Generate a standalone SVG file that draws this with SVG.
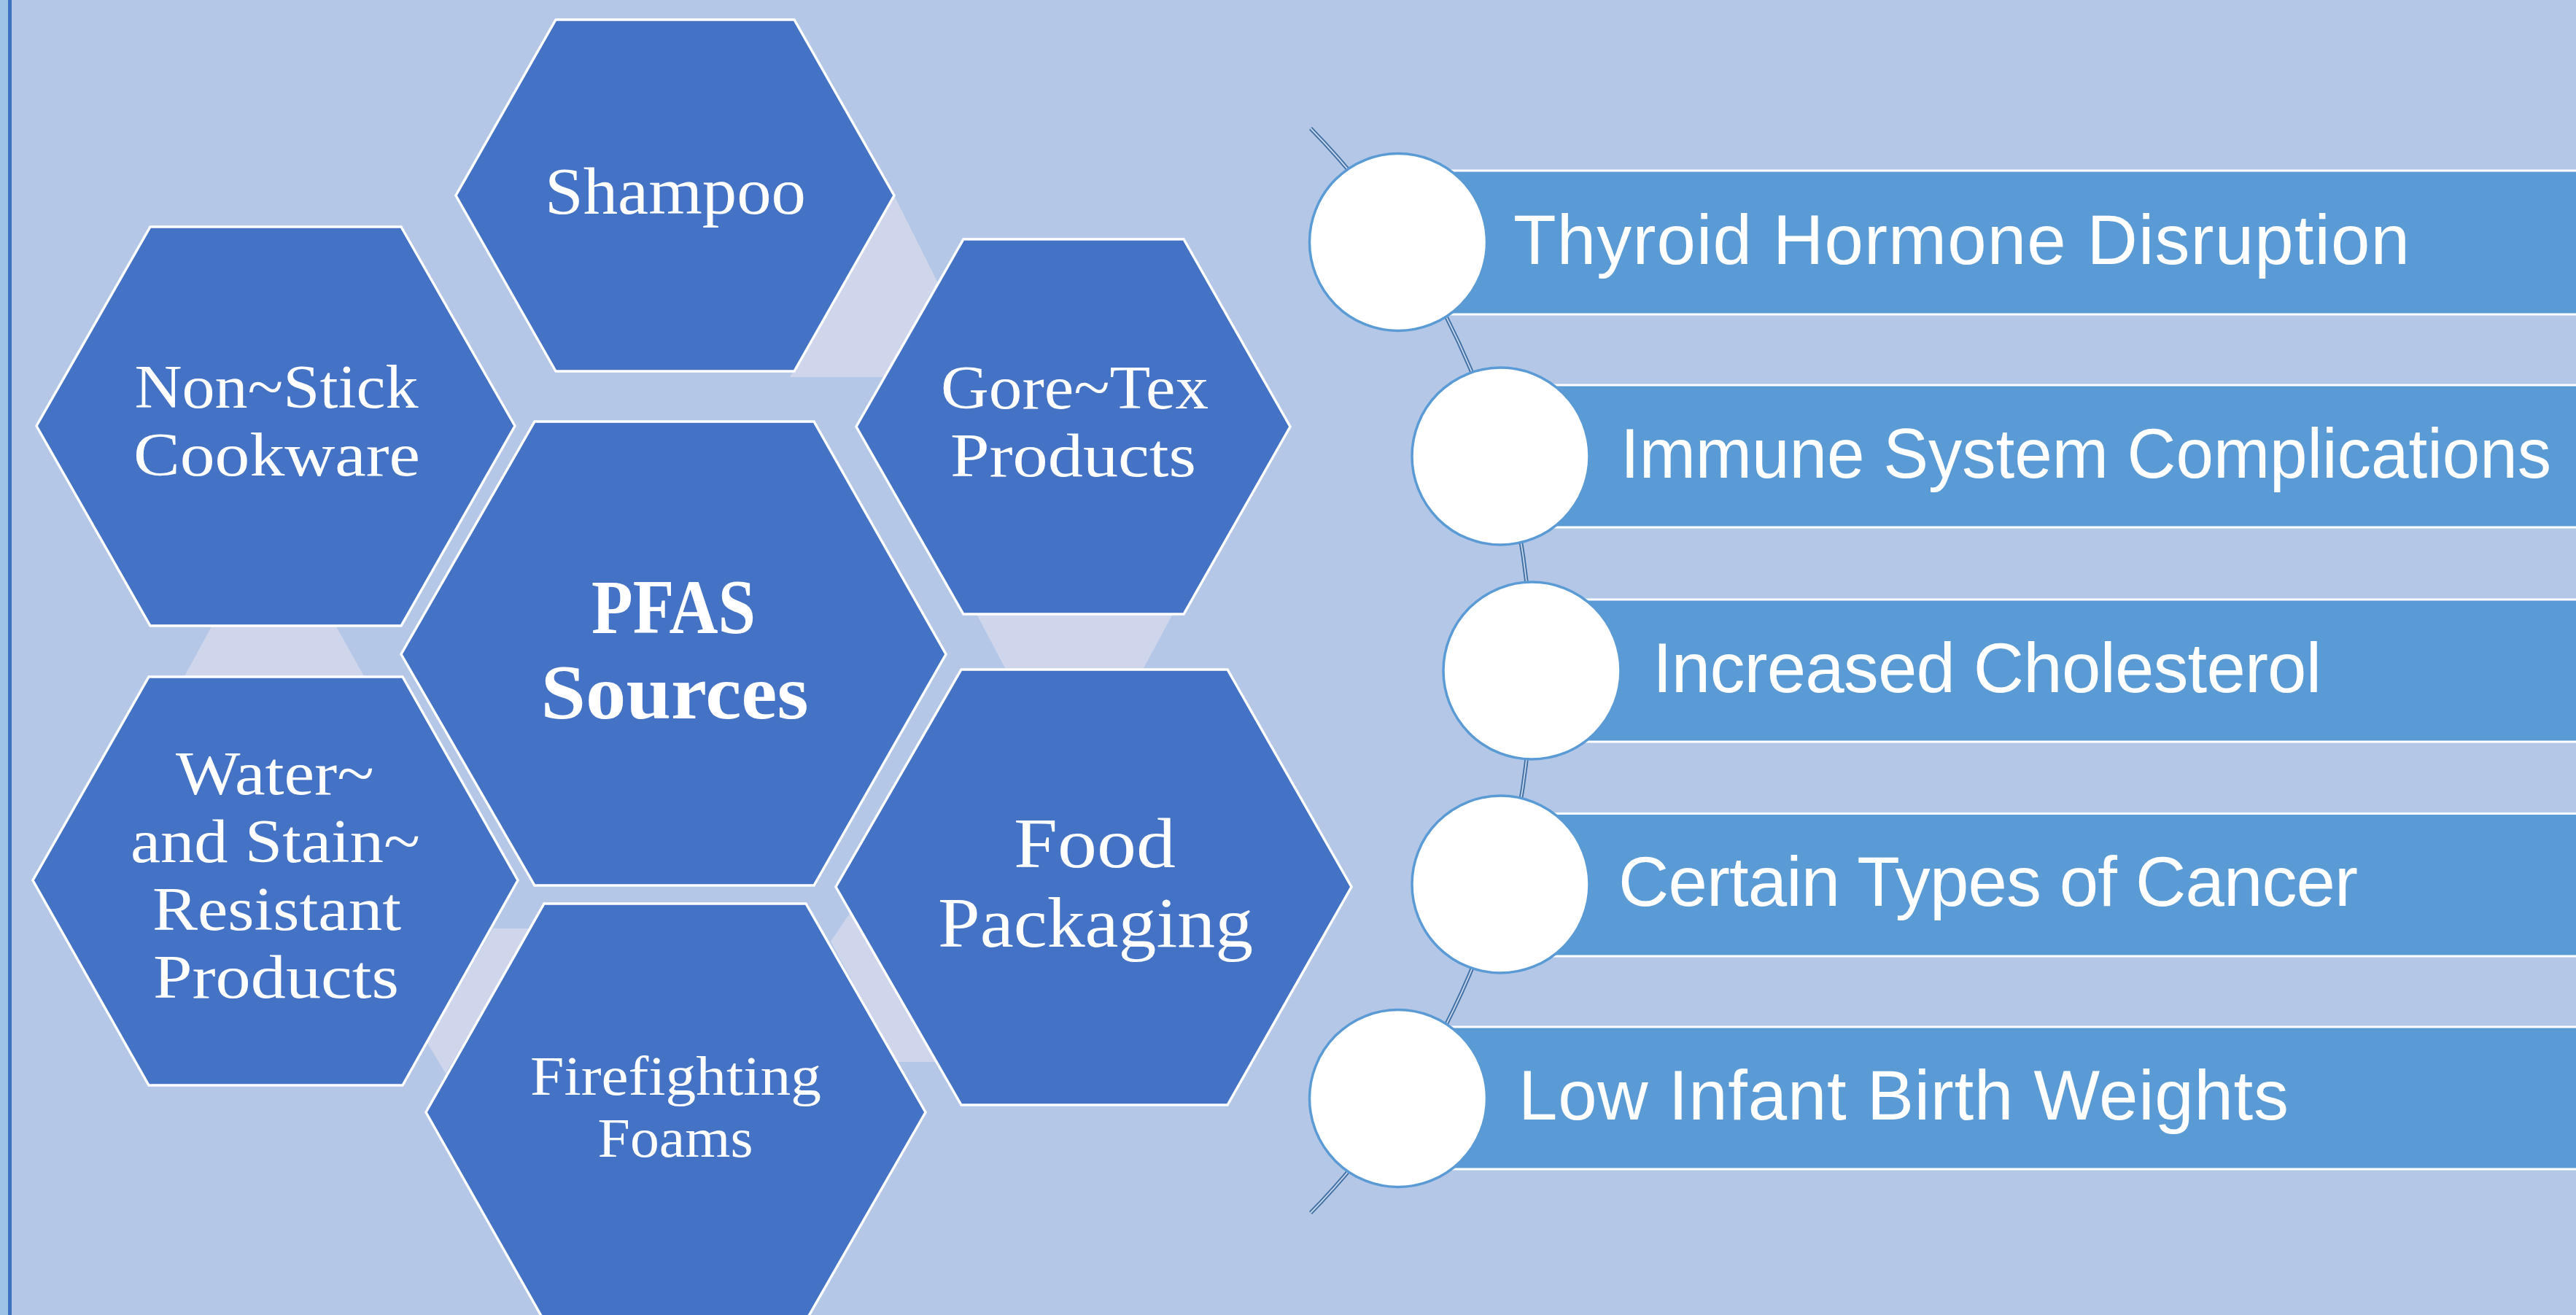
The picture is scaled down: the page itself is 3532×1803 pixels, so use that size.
<svg xmlns="http://www.w3.org/2000/svg" width="3532" height="1803" viewBox="0 0 3532 1803">
<style>
.hex{fill:#4472c4;stroke:#ffffff;stroke-width:3.5;stroke-linejoin:miter}
.lav{fill:#cfd5ea}
.ht{font-family:"Liberation Serif","Times New Roman",serif;fill:#ffffff;text-anchor:middle}
.bar{fill:#5b9bd5}
.edge{stroke:#ffffff;stroke-width:3;fill:none}
.dot{fill:#ffffff;stroke:#5b9bd5;stroke-width:3.5}
.bt{font-family:"Liberation Sans",Arial,sans-serif;font-size:96px;fill:#ffffff}
</style>
<rect x="0" y="0" width="3532" height="1803" fill="#b4c7e7"/>
<rect x="0" y="0" width="11" height="1803" fill="#9dc3e6"/>
<rect x="11" y="0" width="5" height="1803" fill="#3b72c2"/>

<g id="connectors">
  <polygon class="lav" points="1226,268 1286,388 1211,517 1083,517"/>
  <polygon class="lav" points="1339,842 1608,842 1568,916 1378,916"/>
  <polygon class="lav" points="290,859 461,859 499,927 253,927"/>
  <polygon class="lav" points="676,1273 727,1273 611,1472 586,1430"/>
  <polygon class="lav" points="1166,1251 1139,1291 1229,1456 1284,1456"/>
  <path d="M1797 176 A1064 1064 0 0 1 1797 1663" fill="none" stroke="#3f6fa2" stroke-width="5.5"/>
  <path d="M1797 176 A1064 1064 0 0 1 1797 1663" fill="none" stroke="#c9d7ee" stroke-width="1.8"/>
</g>

<g id="node-shampoo">
  <polygon class="hex" points="762,27 1089,27 1226,268 1089,509 762,509 625,268"/>
  <text class="ht" x="926" y="293" font-size="92" textLength="358" lengthAdjust="spacingAndGlyphs">Shampoo</text>
</g>
<g id="node-nonstick">
  <polygon class="hex" points="206,311 550,311 706,584 550,858 206,858 50,584"/>
  <text class="ht" x="379" y="558.5" font-size="84" textLength="389" lengthAdjust="spacingAndGlyphs">Non~Stick</text>
  <text class="ht" x="379.5" y="651.5" font-size="84" textLength="393" lengthAdjust="spacingAndGlyphs">Cookware</text>
</g>
<g id="node-goretex">
  <polygon class="hex" points="1321,328 1623,328 1769,585 1623,842 1321,842 1174,585"/>
  <text class="ht" x="1473.5" y="560" font-size="84" textLength="367" lengthAdjust="spacingAndGlyphs">Gore~Tex</text>
  <text class="ht" x="1471.5" y="653" font-size="84" textLength="337" lengthAdjust="spacingAndGlyphs">Products</text>
</g>
<g id="node-pfas">
  <polygon class="hex" points="733,578 1116,578 1297,897 1116,1214 733,1214 550,897"/>
  <text class="ht" x="923.5" y="868" font-size="106" font-weight="bold" textLength="225" lengthAdjust="spacingAndGlyphs">PFAS</text>
  <text class="ht" x="925" y="985" font-size="106" font-weight="bold" textLength="367" lengthAdjust="spacingAndGlyphs">Sources</text>
</g>
<g id="node-water">
  <polygon class="hex" points="204,928 552,928 710,1207 552,1488 204,1488 45,1207"/>
  <text class="ht" x="377" y="1089" font-size="84" textLength="272" lengthAdjust="spacingAndGlyphs">Water~</text>
  <text class="ht" x="377.5" y="1182" font-size="84" textLength="397" lengthAdjust="spacingAndGlyphs">and Stain~</text>
  <text class="ht" x="379.5" y="1275" font-size="84" textLength="341" lengthAdjust="spacingAndGlyphs">Resistant</text>
  <text class="ht" x="378.5" y="1368" font-size="84" textLength="337" lengthAdjust="spacingAndGlyphs">Products</text>
</g>
<g id="node-food">
  <polygon class="hex" points="1318,918 1683,918 1853,1216 1683,1515 1318,1515 1146,1216"/>
  <text class="ht" x="1501" y="1189" font-size="98" textLength="222" lengthAdjust="spacingAndGlyphs">Food</text>
  <text class="ht" x="1502" y="1298" font-size="98" textLength="432" lengthAdjust="spacingAndGlyphs">Packaging</text>
</g>
<g id="node-firefighting">
  <polygon class="hex" points="746,1239 1105,1239 1269,1525 1105,1811 746,1811 584,1525"/>
  <text class="ht" x="926.5" y="1501" font-size="76" textLength="399" lengthAdjust="spacingAndGlyphs">Firefighting</text>
  <text class="ht" x="926" y="1586" font-size="76" textLength="213" lengthAdjust="spacingAndGlyphs">Foams</text>
</g>

<g id="node-thyroid">
  <rect class="bar" x="1917" y="234" width="1615" height="197"/>
  <path class="edge" d="M1917 234H3532M1917 431H3532"/>
  <circle class="dot" cx="1917" cy="332" r="121.5"/>
  <text class="bt" x="2075" y="361.5" textLength="1229">Thyroid Hormone Disruption</text>
</g>
<g id="node-immune">
  <rect class="bar" x="2057" y="528" width="1475" height="195"/>
  <path class="edge" d="M2057 528H3532M2057 723H3532"/>
  <circle class="dot" cx="2057.5" cy="625.5" r="121.5"/>
  <text class="bt" x="2222" y="655" font-size="94" textLength="1276" lengthAdjust="spacingAndGlyphs">Immune System Complications</text>
</g>
<g id="node-cholesterol">
  <rect class="bar" x="2100" y="822" width="1432" height="195"/>
  <path class="edge" d="M2100 822H3532M2100 1017H3532"/>
  <circle class="dot" cx="2100.5" cy="919.5" r="121.5"/>
  <text class="bt" x="2266" y="949" textLength="917">Increased Cholesterol</text>
</g>
<g id="node-cancer">
  <rect class="bar" x="2057" y="1115.5" width="1475" height="195.5"/>
  <path class="edge" d="M2057 1115.5H3532M2057 1311H3532"/>
  <circle class="dot" cx="2057.5" cy="1212.5" r="121.5"/>
  <text class="bt" x="2219" y="1242" textLength="1014">Certain Types of Cancer</text>
</g>
<g id="node-birthweight">
  <rect class="bar" x="1917" y="1408" width="1615" height="195"/>
  <path class="edge" d="M1917 1408H3532M1917 1603H3532"/>
  <circle class="dot" cx="1917" cy="1506" r="121.5"/>
  <text class="bt" x="2082" y="1534.5" textLength="1056">Low Infant Birth Weights</text>
</g>
</svg>
